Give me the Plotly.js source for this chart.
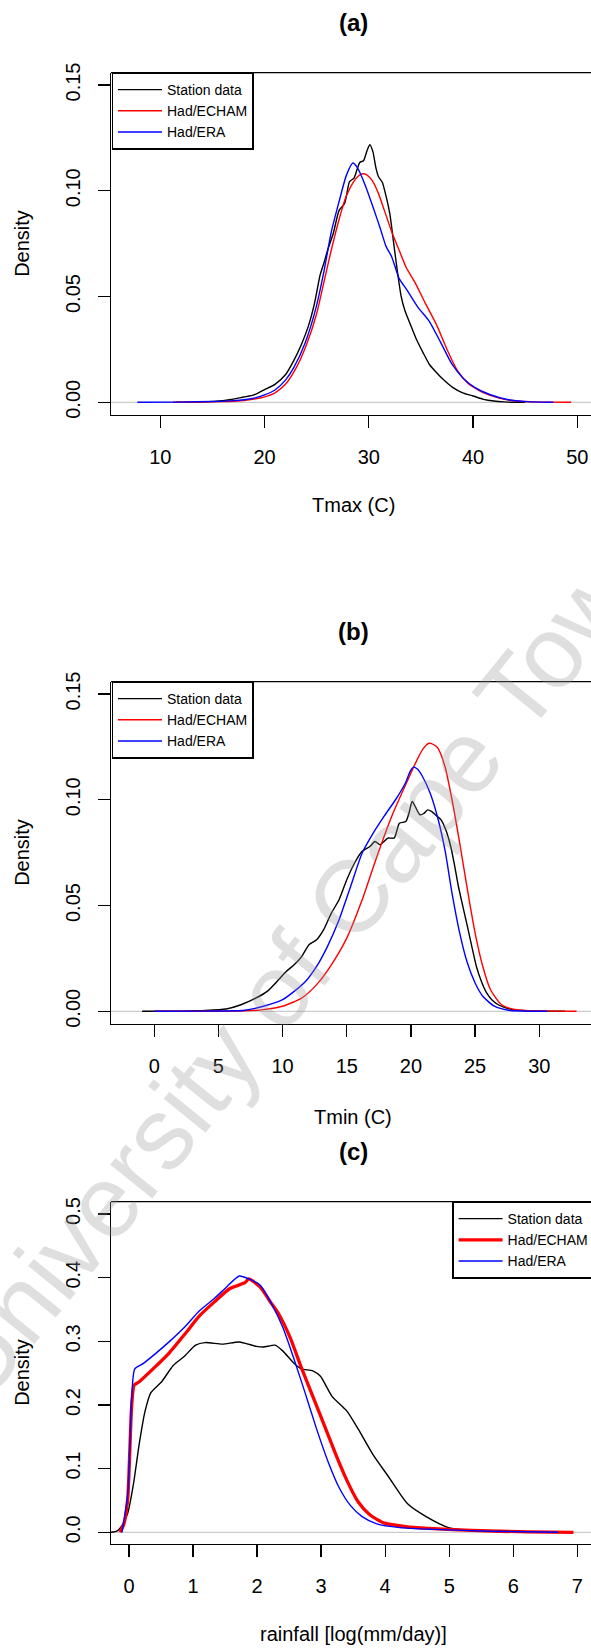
<!DOCTYPE html>
<html>
<head>
<meta charset="utf-8">
<script src="https://cdn.plot.ly/plotly-3.0.1.min.js"></script>
<style>
html,body{margin:0;padding:0;background:#ffffff;overflow:hidden;}
#chart{width:591px;height:1650px;}
</style>
</head>
<body>
<div id="chart"></div>
<script>
// ---------------- DATA ----------------
const seriesNames = ["Station data", "Had/ECHAM", "Had/ERA"];

// (a) Tmax (C)
const tmaxStationX = [11.5, 14, 16, 17, 18, 19, 20, 21, 22, 22.8, 23.5, 24.2, 24.8, 25.33, 25.7, 26.05, 26.6, 27.14, 27.68, 28.15, 28.58, 29.13, 29.49, 29.85, 30.1, 30.39, 30.68, 30.93, 31.29, 31.66, 32.02, 32.38, 32.74, 33.1, 33.46, 34.0, 34.55, 35.2, 35.8, 36.5, 37.2, 38.0, 39.0, 40.0, 41.0, 42.0, 43.0, 44.0, 45.0];
const tmaxStationY = [0, 0.0002, 0.0008, 0.0015, 0.0025, 0.0035, 0.006, 0.0085, 0.013, 0.0197, 0.027, 0.036, 0.047, 0.0602, 0.066, 0.072, 0.080, 0.0906, 0.094, 0.1043, 0.106, 0.1134, 0.1142, 0.1193, 0.1218, 0.1185, 0.1108, 0.1066, 0.104, 0.0973, 0.0889, 0.0754, 0.0619, 0.0501, 0.0434, 0.0366, 0.0299, 0.0235, 0.018, 0.014, 0.0105, 0.0072, 0.0045, 0.003, 0.0014, 0.0006, 0.0002, 0, 0];
const tmaxEchamX = [11.2, 14, 16, 17, 18, 19, 20, 21, 22, 23, 24, 25, 25.7, 26.4, 27.1, 27.8, 28.5, 29, 29.4, 29.8, 30.3, 30.9, 31.5, 32.2, 32.9, 33.6, 34.4, 35.4, 36.5, 37.5, 38.5, 39.5, 40.5, 41.5, 42.5, 43.5, 44.5, 46, 49.4];
const tmaxEchamY = [0, 0.0001, 0.0003, 0.0005, 0.0008, 0.0015, 0.0026, 0.0045, 0.0085, 0.016, 0.027, 0.042, 0.057, 0.072, 0.0856, 0.097, 0.104, 0.107, 0.108, 0.1075, 0.105, 0.099, 0.0906, 0.0805, 0.072, 0.0636, 0.0569, 0.047, 0.0366, 0.025, 0.015, 0.009, 0.0058, 0.0035, 0.002, 0.001, 0.0005, 0.0002, 0];
const tmaxEraX = [7.8, 12, 15, 17, 18, 19, 20, 21, 22, 22.8, 23.9, 24.95, 25.7, 26.4, 27.1, 27.86, 28.47, 28.9, 29.67, 30.4, 31.1, 31.65, 32.2, 32.9, 33.6, 34.7, 35.8, 36.9, 37.98, 39.07, 40.15, 41.6, 43.4, 45.2, 47.7];
const tmaxEraY = [0, 0.0001, 0.0004, 0.0008, 0.0012, 0.002, 0.0035, 0.0058, 0.0105, 0.0164, 0.0282, 0.045, 0.062, 0.0805, 0.094, 0.1075, 0.1131, 0.1109, 0.1024, 0.0923, 0.0822, 0.0737, 0.0687, 0.0586, 0.0535, 0.045, 0.0383, 0.0282, 0.018, 0.0113, 0.0071, 0.0037, 0.0012, 0.0003, 0];
const tmaxTicksX = [10, 20, 30, 40, 50];
const densTicksT = [0, 0.05, 0.10, 0.15];

// (b) Tmin (C)
const tminStationX = [-0.94, 2, 4, 5.6, 6.76, 7.94, 8.8, 9.7, 10.3, 10.9, 11.5, 12.06, 12.65, 13.2, 13.8, 14.4, 15.0, 15.6, 16.2, 16.8, 17.2, 17.6, 18.2, 18.7, 19.1, 19.6, 19.85, 20.1, 20.4, 20.7, 21.0, 21.3, 21.6, 21.9, 22.35, 22.7, 23.1, 23.4, 23.7, 24.05, 24.4, 24.75, 25.1, 25.5, 25.9, 26.3, 26.8, 27.9, 29.7, 32];
const tminStationY = [0, 0.0001, 0.0004, 0.0011, 0.0031, 0.0063, 0.0094, 0.015, 0.0189, 0.022, 0.026, 0.0315, 0.0338, 0.0386, 0.0464, 0.0527, 0.0622, 0.07, 0.0756, 0.0779, 0.0803, 0.0787, 0.0819, 0.0819, 0.0889, 0.0897, 0.0937, 0.0992, 0.096, 0.0929, 0.0935, 0.0952, 0.0945, 0.0929, 0.0905, 0.086, 0.0779, 0.069, 0.059, 0.0495, 0.0401, 0.0305, 0.0212, 0.014, 0.0087, 0.0055, 0.0031, 0.0008, 0.0001, 0];
const tminEchamX = [0, 4, 7.06, 8.5, 10.0, 11.5, 12.65, 13.8, 15.0, 16.2, 17.35, 18.5, 19.7, 20.6, 21.0, 21.4, 21.8, 22.1, 22.65, 23.2, 23.8, 24.4, 25.0, 25.6, 26.2, 27.06, 27.9, 29.1, 30.5, 32.9];
const tminEchamY = [0, 0.00005, 0.0002, 0.0008, 0.0024, 0.0063, 0.0126, 0.022, 0.0346, 0.0527, 0.0732, 0.0921, 0.1086, 0.1204, 0.1245, 0.1267, 0.126, 0.1244, 0.1157, 0.1, 0.0795, 0.0575, 0.037, 0.0212, 0.0102, 0.0031, 0.0011, 0.0003, 0.0001, 0];
const tminEraX = [0, 4, 7.06, 8.5, 10.0, 10.9, 11.8, 12.65, 13.5, 14.4, 15.3, 16.2, 17.06, 17.9, 18.8, 19.56, 19.95, 20.2, 20.5, 20.9, 21.5, 22.06, 22.65, 23.2, 23.8, 24.4, 25.0, 25.6, 26.5, 27.6, 30.6];
const tminEraY = [0, 0.0001, 0.0005, 0.0024, 0.0055, 0.0094, 0.0142, 0.0212, 0.0307, 0.0433, 0.059, 0.0748, 0.0842, 0.0921, 0.1, 0.1078, 0.1135, 0.1154, 0.1145, 0.111, 0.1031, 0.0921, 0.0763, 0.0559, 0.037, 0.0228, 0.0134, 0.0071, 0.0024, 0.0005, 0];
const tminTicksX = [0, 5, 10, 15, 20, 25, 30];

// (c) rainfall [log(mm/day)]
const rainStationX = [-0.28, -0.19, -0.11, -0.02, 0.07, 0.16, 0.25, 0.34, 0.51, 0.69, 0.87, 1.04, 1.19, 1.46, 1.72, 1.99, 2.1, 2.28, 2.4, 2.58, 2.69, 2.87, 2.99, 3.17, 3.4, 3.58, 3.81, 4.05, 4.35, 4.64, 4.99, 5.35, 5.94, 6.7];
const rainStationY = [0, 0.0017, 0.0103, 0.03, 0.076, 0.139, 0.19, 0.219, 0.2365, 0.262, 0.277, 0.294, 0.298, 0.2955, 0.299, 0.292, 0.291, 0.294, 0.285, 0.265, 0.2566, 0.2537, 0.245, 0.2136, 0.1907, 0.162, 0.122, 0.0876, 0.0447, 0.0246, 0.0074, 0.0029, 0.001, 0];
const rainEchamX = [-0.14, -0.08, -0.02, 0.04, 0.08, 0.16, 0.4, 0.63, 0.87, 1.1, 1.34, 1.57, 1.81, 1.87, 2.05, 2.22, 2.34, 2.52, 2.69, 2.87, 3.05, 3.23, 3.4, 3.58, 3.76, 3.99, 4.35, 4.76, 5.35, 6.23, 6.94];
const rainEchamY = [0, 0.013, 0.053, 0.196, 0.231, 0.2365, 0.259, 0.282, 0.311, 0.34, 0.3625, 0.3826, 0.392, 0.398, 0.385, 0.36, 0.3425, 0.305, 0.259, 0.2136, 0.168, 0.122, 0.082, 0.0475, 0.0275, 0.0143, 0.0086, 0.0057, 0.0029, 0.0006, 0];
const rainEraX = [-0.11, -0.02, 0.04, 0.09, 0.22, 0.4, 0.63, 0.87, 1.1, 1.34, 1.52, 1.72, 1.87, 2.05, 2.22, 2.4, 2.58, 2.75, 2.93, 3.11, 3.28, 3.46, 3.64, 3.87, 4.23, 4.76, 5.64, 6.7];
const rainEraY = [0, 0.059, 0.208, 0.2566, 0.265, 0.2795, 0.2995, 0.3224, 0.348, 0.368, 0.385, 0.4026, 0.398, 0.388, 0.36, 0.3224, 0.271, 0.219, 0.162, 0.1105, 0.0704, 0.0418, 0.0246, 0.0132, 0.0074, 0.0046, 0.0017, 0];
const rainTicksX = [0, 1, 2, 3, 4, 5, 6, 7];
const densTicksR = [0, 0.1, 0.2, 0.3, 0.4, 0.5];

// ---------------- LAYOUT HELPERS ----------------
const W = 591, H = 1650;
const fx = v => v / W;
const fy = v => 1 - v / H;
const FONT = "Liberation Sans, Arial, Helvetica, sans-serif";
const colors = ["#000000", "#ff0000", "#0000ff"];

function mk(x, y, i, xa, ya, lg, w) {
  return {
    type: "scatter", mode: "lines", x: x, y: y, name: seriesNames[i],
    xaxis: xa, yaxis: ya, legend: lg,
    line: {color: colors[i], width: w, shape: "spline", smoothing: 0.6},
    hoverinfo: "skip"
  };
}

const data = [
  mk(tmaxStationX, tmaxStationY, 0, "x", "y", "legend", 1.4),
  mk(tmaxEchamX, tmaxEchamY, 1, "x", "y", "legend", 1.4),
  mk(tmaxEraX, tmaxEraY, 2, "x", "y", "legend", 1.4),
  mk(tminStationX, tminStationY, 0, "x2", "y2", "legend2", 1.4),
  mk(tminEchamX, tminEchamY, 1, "x2", "y2", "legend2", 1.4),
  mk(tminEraX, tminEraY, 2, "x2", "y2", "legend2", 1.4),
  mk(rainStationX, rainStationY, 0, "x3", "y3", "legend3", 1.4),
  mk(rainEchamX, rainEchamY, 1, "x3", "y3", "legend3", 3.3),
  mk(rainEraX, rainEraY, 2, "x3", "y3", "legend3", 1.4)
];

// plot boxes (pixels)
const boxL = 111;
const boxes = [
  {top: 72.7, bottom: 415},
  {top: 681.7, bottom: 1024},
  {top: 1201.7, bottom: 1544}
];

function xax(range, ticks, anchor) {
  return {
    domain: [fx(boxL), 1], range: range, anchor: anchor,
    tickmode: "array", tickvals: ticks, ticktext: ticks.map(String),
    showgrid: false, zeroline: false, showline: true, linecolor: "#000", linewidth: 1.3,
    ticks: "outside", ticklen: 12, tickwidth: 1.3, tickcolor: "#000",
    ticklabelstandoff: 12,
    tickfont: {family: FONT, size: 20, color: "#000"}, fixedrange: true
  };
}
function yax(box, range, ticks, fmt, anchor) {
  return {
    domain: [fy(box.bottom), fy(box.top)], range: range, anchor: anchor,
    tickmode: "array", tickvals: ticks, ticktext: ticks.map(v => v.toFixed(fmt)),
    tickangle: -90,
    showgrid: false, zeroline: false, showline: true, linecolor: "#000", linewidth: 1.3,
    ticks: "outside", ticklen: 12, tickwidth: 1.3, tickcolor: "#000",
    ticklabelstandoff: 10,
    tickfont: {family: FONT, size: 20, color: "#000"}, fixedrange: true
  };
}

function legendAt(xpx, ypx) {
  return {
    x: fx(xpx), y: fy(ypx), xanchor: "left", yanchor: "top", xref: "paper", yref: "paper",
    bgcolor: "#ffffff", bordercolor: "#000000", borderwidth: 1.3,
    font: {family: FONT, size: 14, color: "#000"}, itemwidth: 44,
    tracegroupgap: 0
  };
}

function ann(text, xpx, ypx, size, angle, extra) {
  return Object.assign({
    text: text, x: fx(xpx), y: fy(ypx), xref: "paper", yref: "paper",
    xanchor: "center", yanchor: "middle", showarrow: false, textangle: angle || 0,
    font: {family: FONT, size: size, color: "#000"}
  }, extra || {});
}

const titleX = 353;
const annotations = [
  ann("University of Cape Town", 302, 958, 102, -51, {font: {family: FONT, size: 102, color: "rgba(150,150,150,0.3)"}}),
  ann("<b>(a)</b>", titleX, 23, 24),
  ann("Tmax (C)", titleX, 505, 20),
  ann("Density", 22, (boxes[0].top + boxes[0].bottom) / 2, 20, -90),
  ann("<b>(b)</b>", titleX, 631.7, 24),
  ann("Tmin (C)", titleX, 1116.5, 20),
  ann("Density", 22, (boxes[1].top + boxes[1].bottom) / 2, 20, -90),
  ann("<b>(c)</b>", titleX, 1151, 24),
  ann("rainfall [log(mm/day)]", titleX, 1634, 20),
  ann("Density", 22, (boxes[2].top + boxes[2].bottom) / 2, 20, -90)
];

const shapes = [];
[["x", "y"], ["x2", "y2"], ["x3", "y3"]].forEach(([xa, ya]) => {
  // zero line (grey) across the plot region
  shapes.push({type: "line", xref: xa + " domain", yref: ya, x0: 0, x1: 1, y0: 0, y1: 0,
    line: {color: "#bebebe", width: 1}, layer: "below"});
  // top edge of the plot box
  shapes.push({type: "line", xref: xa + " domain", yref: ya + " domain", x0: 0, x1: 1, y0: 1, y1: 1,
    line: {color: "#000000", width: 1.3}, layer: "above"});
});

const layout = {
  width: W, height: H,
  margin: {l: 0, r: 0, t: 0, b: 0, autoexpand: false},
  paper_bgcolor: "#ffffff", plot_bgcolor: "#ffffff",
  showlegend: true,
  font: {family: FONT, color: "#000"},
  xaxis: xax([5.27, 51.31], tmaxTicksX, "y"),
  yaxis: yax(boxes[0], [-0.006, 0.1558], densTicksT, 2, "x"),
  xaxis2: xax([-3.37, 34.03], tminTicksX, "y2"),
  yaxis2: yax(boxes[1], [-0.006, 0.1558], densTicksT, 2, "x2"),
  xaxis3: xax([-0.281, 7.214], rainTicksX, "y3"),
  yaxis3: yax(boxes[2], [-0.0184, 0.5193], densTicksR, 1, "x3"),
  legend: legendAt(111.7, 72.7),
  legend2: legendAt(111.7, 681.7),
  legend3: legendAt(452.3, 1201.7),
  annotations: annotations,
  shapes: shapes
};

Plotly.newPlot("chart", data, layout, {displayModeBar: false, staticPlot: true});
</script>
</body>
</html>
